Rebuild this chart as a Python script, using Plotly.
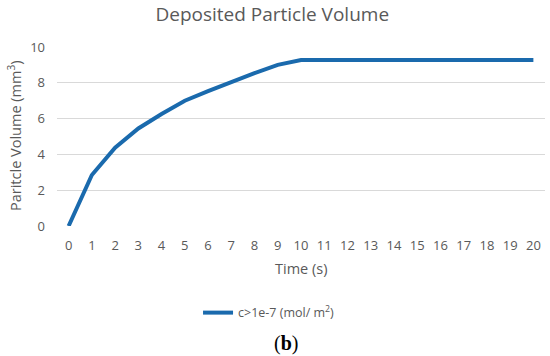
import plotly.graph_objects as go

time_s = list(range(0, 21))
volume = [0, 2.85, 4.37, 5.45, 6.26, 7.0, 7.53, 8.04, 8.54, 9.0, 9.27,
          9.27, 9.27, 9.27, 9.27, 9.27, 9.27, 9.27, 9.27, 9.27, 9.27]
series_name = "c>1e-7 (mol/ m<sup>2</sup>)"
y_ticks = [0, 2, 4, 6, 8, 10]

FONT = "Open Sans"
GRAY = "#595959"

fig = go.Figure()
fig.add_trace(go.Scatter(
    x=time_s, y=volume, mode="lines", name=series_name,
    line=dict(color="#1a6aad", width=4),
))

fig.update_layout(
    width=550, height=356,
    margin=dict(l=57, r=5, t=47, b=130, autoexpand=False),
    paper_bgcolor="white", plot_bgcolor="white",
    font=dict(family=FONT, color=GRAY, size=12),
    title=dict(text="Deposited Particle Volume", x=0.495, xanchor="center",
               y=0.961, yanchor="middle", font=dict(size=19, color=GRAY, family=FONT)),
    showlegend=True,
    legend=dict(x=0.289, xanchor="left", y=-0.486, yanchor="middle",
                orientation="h", font=dict(size=12.5, color=GRAY, family=FONT),
                itemwidth=30, bgcolor="rgba(0,0,0,0)"),
    xaxis=dict(range=[-0.5, 20.5], tickmode="array", tickvals=time_s,
               ticktext=[str(t) for t in time_s], showgrid=False, zeroline=False,
               showline=False, ticks="", ticklabelstandoff=10, automargin=False,
               tickfont=dict(size=13, color=GRAY, family=FONT)),
    yaxis=dict(range=[0, 10], tickmode="array", tickvals=y_ticks,
               showgrid=True, gridcolor="#d9d9d9", gridwidth=1, zeroline=False,
               showline=False, ticks="", ticklabelstandoff=11, automargin=False,
               tickfont=dict(size=13, color=GRAY, family=FONT)),
)

fig.add_annotation(text="Time (s)", xref="paper", yref="paper",
                   x=0.5, y=-0.235, showarrow=False, xanchor="center", yanchor="middle",
                   font=dict(family=FONT, size=14.5, color=GRAY))
fig.add_annotation(text="Paritcle Volume (mm<sup>3</sup>)", xref="paper", yref="paper",
                   x=-0.086, y=0.503, showarrow=False, textangle=-90,
                   xanchor="center", yanchor="middle",
                   font=dict(family=FONT, size=14.5, color=GRAY))
fig.add_annotation(text="(<b>b</b>)", xref="paper", yref="paper",
                   x=0.469, y=-0.654, showarrow=False, xanchor="center", yanchor="middle",
                   font=dict(family="Liberation Serif", size=20, color="black"))

fig.write_html("out.html", config={"displayModeBar": False},
               post_script="document.body.style.margin='0';")
